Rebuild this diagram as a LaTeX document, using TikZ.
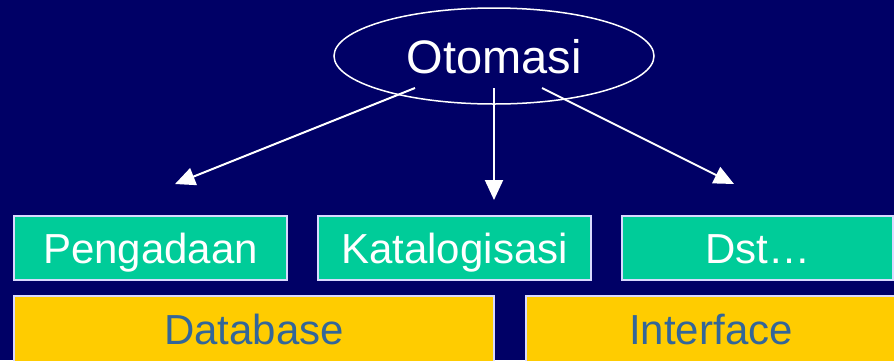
\documentclass[tikz,border=0pt]{standalone}
\usepackage{fontspec}
\setmainfont{Liberation Sans}
\usetikzlibrary{shapes.geometric,arrows.meta}

\newlength{\du}
\setlength{\du}{15\unitlength}

\definecolor{slidenavy}{rgb}{0.000000, 0.000000, 0.400000}
\definecolor{modgreen}{rgb}{0.000000, 0.800000, 0.600000}
\definecolor{layeryellow}{rgb}{1.000000, 0.800000, 0.000000}
\definecolor{layertext}{rgb}{0.200000, 0.400000, 0.600000}
\definecolor{boxedge}{rgb}{0.850000, 0.850000, 1.000000}

\tikzset{
  modbox/.style={rectangle, draw=boxedge, fill=modgreen, line width=0.100000\du,
    inner sep=0pt, minimum height=4.266667\du, text=white,
    font=\fontsize{42}{50}\selectfont, text height=2.000000\du, text depth=0pt},
  layerbox/.style={rectangle, draw=boxedge, fill=layeryellow, line width=0.100000\du,
    inner sep=0pt, minimum height=4.400000\du, text=layertext,
    font=\fontsize{42}{50}\selectfont, text height=2.000000\du, text depth=0pt},
  tipline/.style={draw=white, line width=0.133333\du,
    -{Triangle[width=18pt,length=20pt]}}
}

\begin{document}
\begin{tikzpicture}
\pgftransformxscale{1.000000}
\pgftransformyscale{-1.000000}
\useasboundingbox (0.000000\du,0.000000\du) rectangle (59.600000\du,24.000000\du);
\fill[slidenavy] (0.000000\du,0.000000\du) rectangle (59.600000\du,24.000000\du);

% top
\node[ellipse, draw=white, line width=0.100000\du, inner sep=0pt,
  minimum width=21.333333\du, minimum height=6.400000\du, text=white,
  font=\fontsize{47}{56}\selectfont, text height=2.266667\du, text depth=0pt]
  (otomasi) at (32.933333\du,3.733333\du){Otomasi};

% modules
\node[modbox, minimum width=18.200000\du] (pengadaan) at (10.033333\du,16.533333\du){Pengadaan};
\node[modbox, minimum width=18.200000\du] (katalog) at (30.300000\du,16.533333\du){Katalogisasi};
\node[modbox, minimum width=18.066667\du] (dst) at (50.500000\du,16.533333\du){Dst…};

% layers
\node[layerbox, minimum width=32.000000\du] (database) at (16.933333\du,21.933333\du){Database};
\node[layerbox, minimum width=24.666667\du] (interface) at (47.400000\du,21.933333\du){Interface};

\coordinate (fromleft) at (27.666667\du,5.866667\du);
\coordinate (frommid) at (32.933333\du,5.866667\du);
\coordinate (fromright) at (36.133333\du,5.866667\du);
\coordinate (toleft) at (11.666667\du,12.266667\du);
\coordinate (tomid) at (32.933333\du,13.333333\du);
\coordinate (toright) at (48.933333\du,12.266667\du);

\draw[tipline] (fromleft)--(toleft);
\draw[tipline] (frommid)--(tomid);
\draw[tipline] (fromright)--(toright);
\end{tikzpicture}
\end{document}
